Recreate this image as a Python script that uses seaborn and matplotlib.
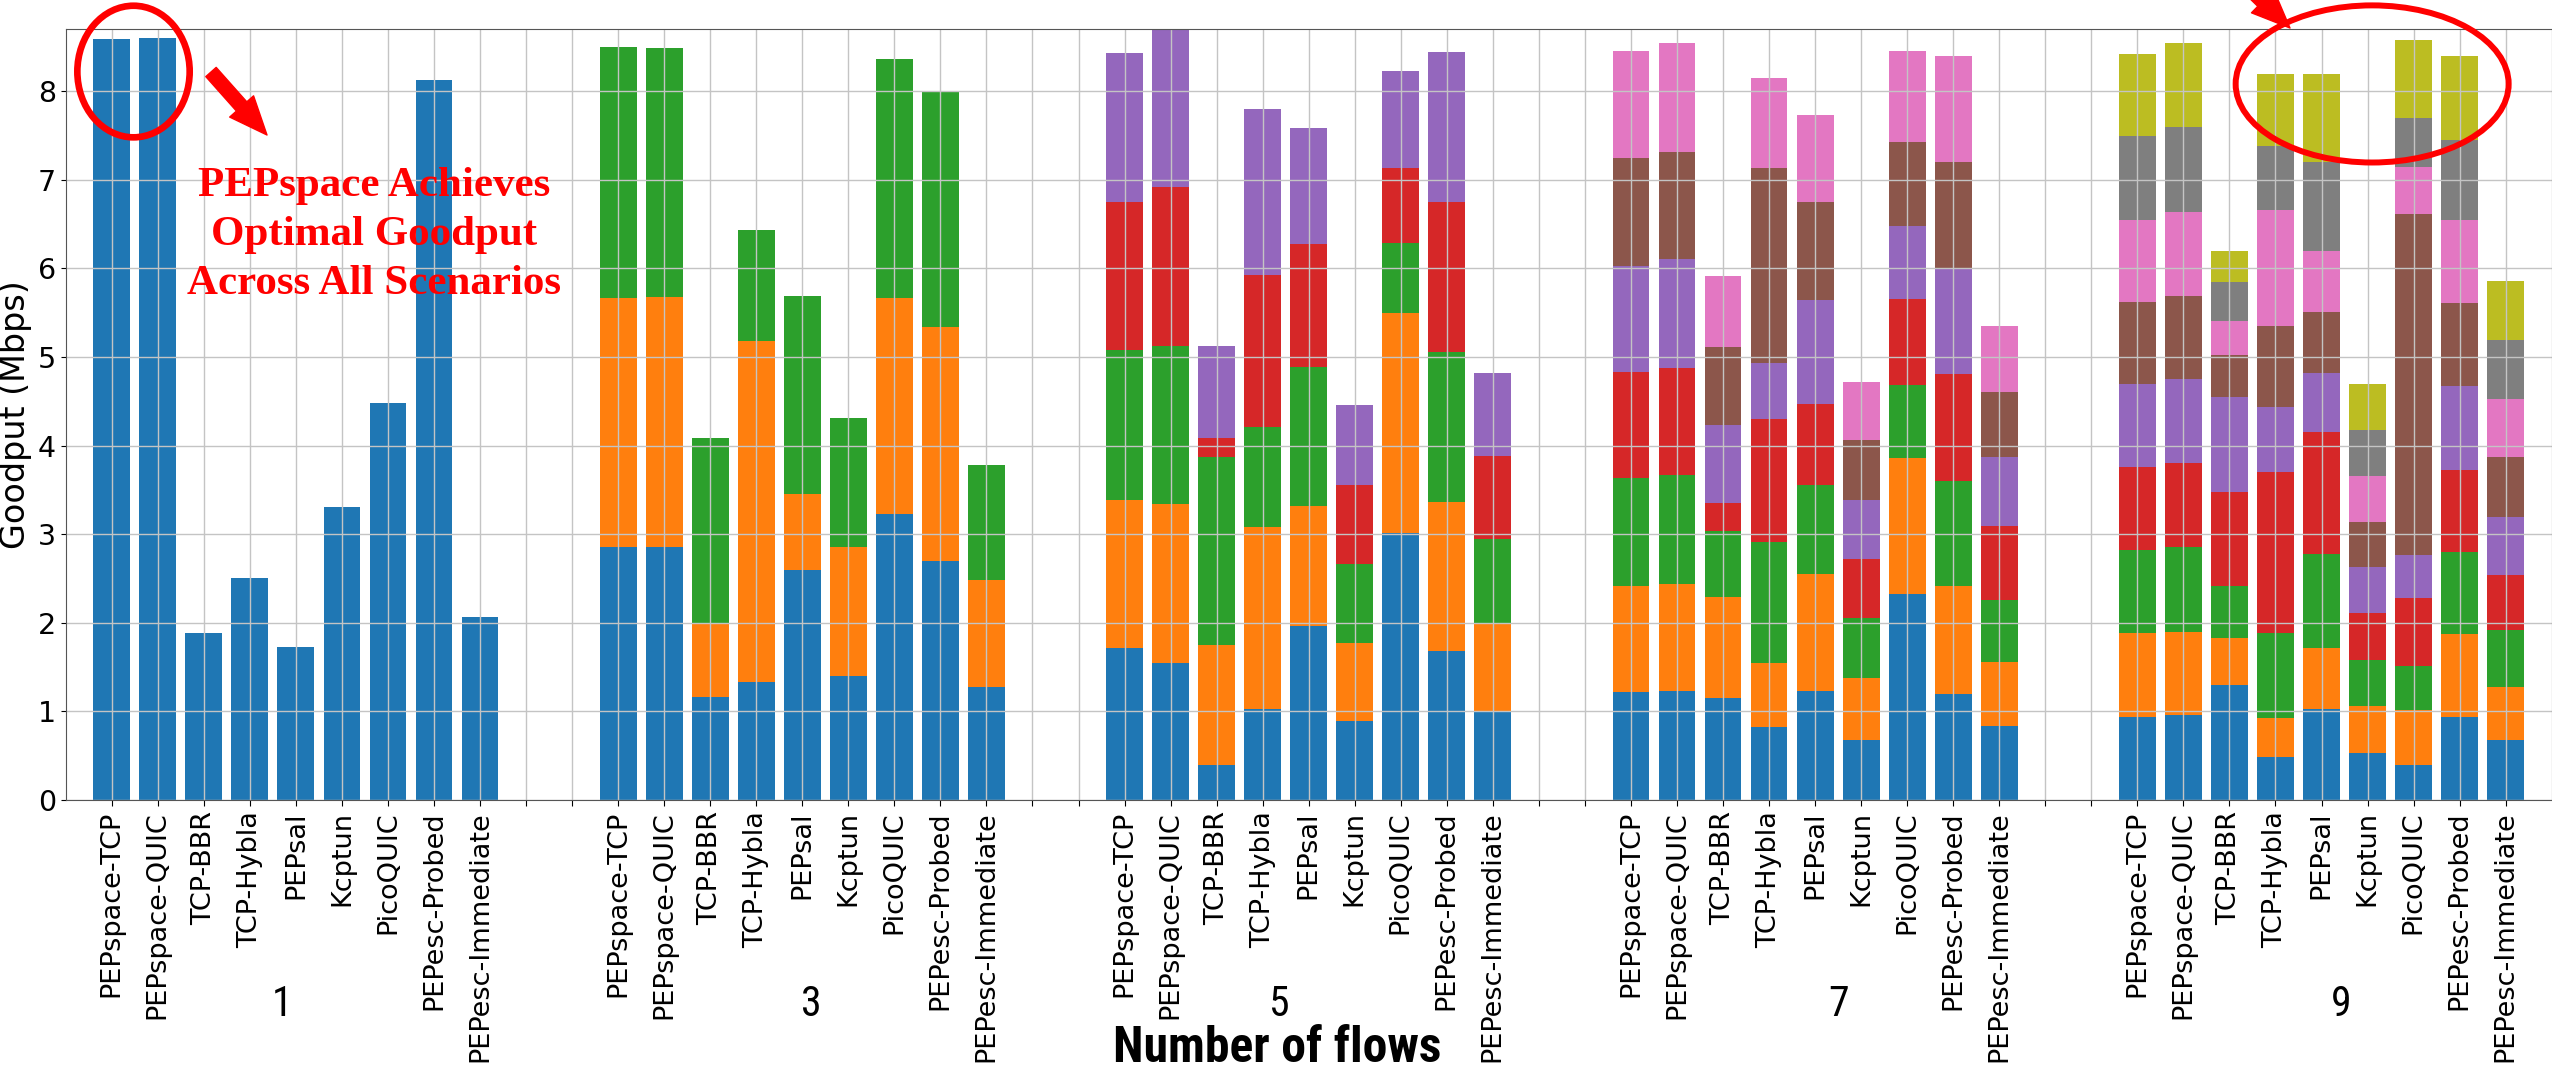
import numpy as np
import pandas as pd
import matplotlib
matplotlib.use("Agg")
import matplotlib.pyplot as plt
import matplotlib.transforms as mtransforms
from matplotlib.patches import Ellipse
import seaborn as sns

methods = ['PEPspace-TCP', 'PEPspace-QUIC', 'TCP-BBR', 'TCP-Hybla', 'PEPsal',
           'Kcptun', 'PicoQUIC', 'PEPesc-Probed', 'PEPesc-Immediate']
flow_counts = [1, 3, 5, 7, 9]

# goodput of each flow (Mbps), one list per method, first flow at the bottom
goodput_1 = [[8.59], [8.60], [1.89], [2.50], [1.73], [3.31], [4.48], [8.13], [2.07]]
goodput_3 = [[2.85, 2.82, 2.83], [2.86, 2.82, 2.81], [1.16, 0.83, 2.09],
             [1.33, 3.85, 1.25], [2.59, 0.86, 2.24], [1.40, 1.45, 1.46],
             [3.23, 2.43, 2.70], [2.70, 2.64, 2.66], [1.28, 1.20, 1.30]]
goodput_5 = [[1.71, 1.68, 1.69, 1.67, 1.68], [1.55, 1.79, 1.78, 1.80, 1.83],
             [0.40, 1.35, 2.12, 0.21, 1.04], [1.03, 2.05, 1.13, 1.71, 1.88],
             [1.96, 1.36, 1.57, 1.38, 1.31], [0.89, 0.88, 0.89, 0.90, 0.90],
             [3.01, 2.49, 0.78, 0.85, 1.10], [1.68, 1.68, 1.69, 1.70, 1.69],
             [1.00, 0.99, 0.96, 0.93, 0.94]]
goodput_7 = [[1.22, 1.20, 1.21, 1.20, 1.20, 1.21, 1.21],
             [1.23, 1.21, 1.23, 1.21, 1.22, 1.21, 1.23],
             [1.15, 1.14, 0.75, 0.31, 0.88, 0.88, 0.80],
             [0.82, 0.73, 1.36, 1.39, 0.63, 2.20, 1.02],
             [1.23, 1.32, 1.00, 0.92, 1.17, 1.11, 0.98],
             [0.68, 0.70, 0.67, 0.67, 0.67, 0.67, 0.66],
             [2.33, 1.53, 0.82, 0.97, 0.83, 0.94, 1.03],
             [1.20, 1.21, 1.19, 1.21, 1.19, 1.20, 1.19],
             [0.83, 0.73, 0.70, 0.83, 0.78, 0.73, 0.75]]
goodput_9 = [[0.94, 0.95, 0.93, 0.94, 0.93, 0.93, 0.93, 0.94, 0.93],
             [0.96, 0.94, 0.95, 0.95, 0.95, 0.94, 0.95, 0.95, 0.95],
             [1.30, 0.53, 0.58, 1.06, 1.08, 0.47, 0.38, 0.44, 0.36],
             [0.48, 0.45, 0.96, 1.81, 0.73, 0.92, 1.31, 0.72, 0.81],
             [1.03, 0.68, 1.07, 1.37, 0.67, 0.69, 0.68, 1.01, 0.99],
             [0.53, 0.53, 0.52, 0.53, 0.52, 0.51, 0.52, 0.52, 0.51],
             [0.40, 0.62, 0.49, 0.77, 0.49, 3.84, 0.53, 0.56, 0.88],
             [0.94, 0.93, 0.93, 0.92, 0.95, 0.94, 0.94, 0.90, 0.94],
             [0.68, 0.60, 0.64, 0.62, 0.65, 0.68, 0.65, 0.67, 0.67]]

groups = [goodput_1, goodput_3, goodput_5, goodput_7, goodput_9]
group_step = len(methods) + 2  # two empty slots between groups

rows = []
for g, (n, group) in enumerate(zip(flow_counts, groups)):
    for m, flows in enumerate(group):
        tops = np.cumsum(flows)
        for k, top in enumerate(tops):
            rows.append({'slot': g * group_step + m, 'flow': k, 'top': top,
                         'method': methods[m], 'n_flows': n})
df = pd.DataFrame(rows)

fig = plt.figure(figsize=(25.52, 10.69), dpi=100)
ax = fig.add_axes([65.7 / 2552, 1 - 800 / 1069, 2486 / 2552, 771 / 1069])

palette = sns.color_palette('tab10', 10)
# draw the cumulative tops from the highest flow down so the bars look stacked
for k in range(df['flow'].max(), -1, -1):
    sub = df[df['flow'] == k]
    sns.barplot(data=sub, x='slot', y='top', native_scale=True, color=palette[k],
                saturation=1, width=0.8, errorbar=None, ax=ax)

n_slots = group_step * len(flow_counts) - 2
ticklabels = [''] * n_slots
for g in range(len(flow_counts)):
    for m, name in enumerate(methods):
        ticklabels[g * group_step + m] = name
ax.set_xticks(np.arange(n_slots))
ax.set_xticklabels(ticklabels, rotation=90, fontsize=19.5)
ax.set_xlim(-1, n_slots)
ax.set_ylim(0, 8.7)
ax.set_yticks(range(9))
ax.tick_params(axis='y', labelsize=20.5)
ax.tick_params(axis='x', length=4.5)
ax.grid(True, color='#c4c4c4', linewidth=1.0)
for sp in ax.spines.values():
    sp.set_color('#555555')

ax.set_ylabel('Goodput (Mbps)', fontsize=24)
narrow = ['Roboto Condensed', 'Liberation Sans Narrow', 'Roboto', 'DejaVu Sans']
ax.set_xlabel('Number of flows', fontsize=32, fontweight='bold', family=narrow)
ax.xaxis.label.set_va('baseline')
ax.xaxis.set_label_coords(0.4874, -0.3400)

# flow-count labels under each group
number_x = [3.69, 15.19, 25.33, 37.52, 48.43]
blend = mtransforms.blended_transform_factory(ax.transData, ax.transAxes)
for x, n in zip(number_x, flow_counts):
    ax.text(x, -0.2800, str(n), transform=blend, ha='center', va='baseline',
            fontsize=30, family=narrow)

# annotation (va='baseline' anchors the last line)
ax.text(374 / 2552, 1 - 294 / 1069,
        'PEPspace Achieves\nOptimal Goodput\nAcross All Scenarios',
        transform=fig.transFigure, ha='center', va='baseline', multialignment='center',
        fontsize=31, fontweight='bold', color='red', family='Liberation Serif',
        linespacing=1.38)

ax.add_patch(Ellipse((0.473, 8.22), 2.44, 1.485, fill=False, edgecolor='red',
                     linewidth=4.8, clip_on=False, zorder=5))
ax.add_patch(Ellipse((49.1, 8.08), 5.93, 1.773, fill=False, edgecolor='red',
                     linewidth=4.3, clip_on=False, zorder=5))

arrow = dict(arrowstyle='simple,head_length=1.1,head_width=0.92,tail_width=0.4',
             color='red', mutation_scale=25, shrinkA=0, shrinkB=0)
ax.annotate('', xy=(267, 934), xytext=(211, 997), xycoords='figure pixels',
            textcoords='figure pixels', arrowprops=arrow, annotation_clip=False)
ax.annotate('', xy=(2290, 1041), xytext=(2215, 1114), xycoords='figure pixels',
            textcoords='figure pixels', arrowprops=arrow, annotation_clip=False)

# fit the x label to the width it has in the reference (about 329 px)
fig.canvas.draw()
lab = ax.xaxis.label
w = lab.get_window_extent(fig.canvas.get_renderer()).width
lab.set_fontsize(lab.get_fontsize() * 329 / w)

fig.savefig('out.png', dpi=100)
plt.close(fig)
